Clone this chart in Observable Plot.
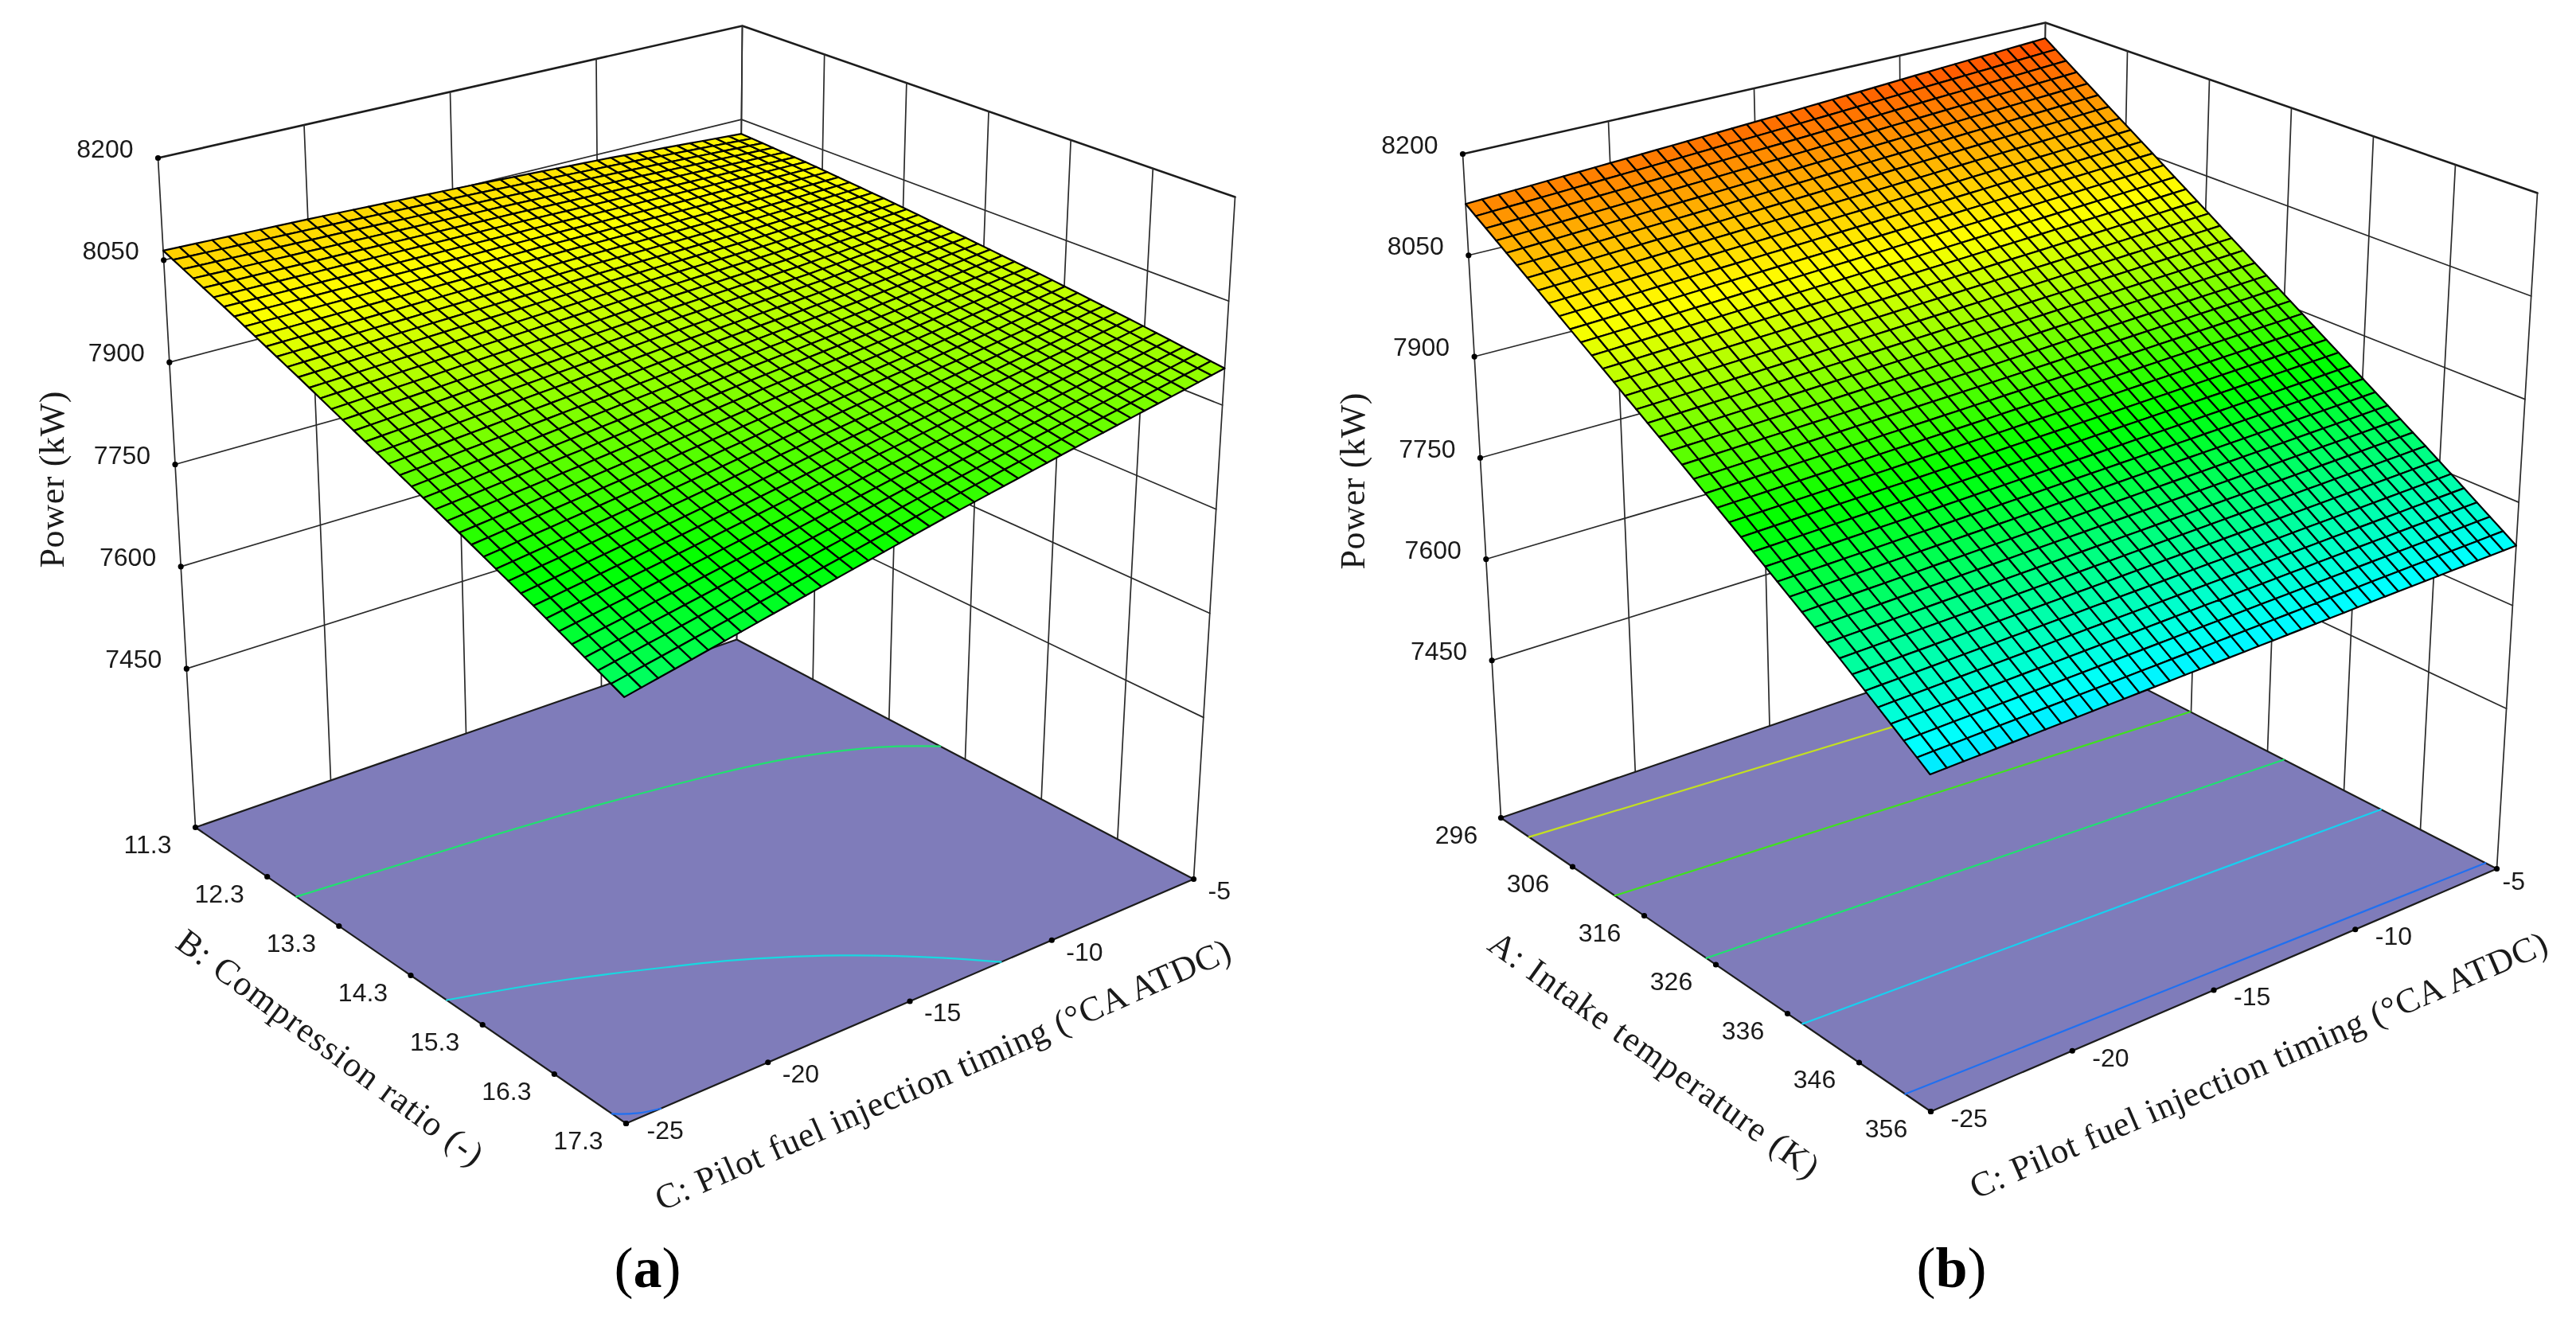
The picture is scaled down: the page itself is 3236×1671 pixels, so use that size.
<!DOCTYPE html>
<html><head><meta charset="utf-8">
<style>html,body{margin:0;padding:0;background:#fff}svg{display:block;filter:blur(0.6px)}</style>
<script src="https://cdn.jsdelivr.net/npm/d3@7"></script>
<script src="https://cdn.jsdelivr.net/npm/@observablehq/plot@0.6"></script>
</head><body><div id="chart"></div>
<script>
// ---- Axis ticks
const timingTicks = [-25, -20, -15, -10, -5];
const powerTicks = [8200, 8050, 7900, 7750, 7600, 7450];
const ratioTicks = [11.3, 12.3, 13.3, 14.3, 15.3, 16.3, 17.3];
const tempTicks = [296, 306, 316, 326, 336, 346, 356];
const floorPower = 7217;

// ---- Power (kW) read at the tick crossings; rows follow the ratio / temperature ticks,
// columns follow the timing ticks. The fine mesh drawn below is a subdivision of these read values.
const powerA = [
  [8064, 8058, 8050, 8040, 8027],
  [8023, 8023, 8023, 8021, 8020],
  [7979, 7988, 7996, 8001, 8010],
  [7933, 7950, 7966, 7980, 7998],
  [7886, 7911, 7937, 7959, 7985],
  [7837, 7871, 7906, 7938, 7970],
  [7785, 7831, 7876, 7916, 7953]
];
const powerB = [
  [8126, 8138, 8150, 8163, 8175],
  [8055, 8065, 8075, 8085, 8094],
  [7982, 7990, 7998, 8006, 8014],
  [7908, 7914, 7920, 7927, 7933],
  [7832, 7837, 7842, 7847, 7852],
  [7755, 7759, 7763, 7767, 7771],
  [7672, 7676, 7680, 7684, 7687]
];

// ---- Floor contours: timing and ratio/temperature
const contoursA = [
  {color: "#22e070", timing: [-25, -18.9, -14.9, -11.28, -8.69, -6.41, -5], m: [12.86, 13.01, 13.15, 13.33, 13.53, 13.84, 14.16]},
  {color: "#18d8e0", timing: [-25, -21.9, -19.2, -17.73, -15.43, -13.39, -12.3], m: [15.0, 15.34, 15.72, 15.95, 16.41, 16.95, 17.3]},
  {color: "#2070f0", timing: [-25, -24.5, -23.9], m: [17.13, 17.24, 17.3]}
];
const contoursB = [
  {color: "#c4e020", timing: [-25, -5], m: [300.5, 304.8]},
  {color: "#40e020", timing: [-25, -5], m: [313.7, 317.7]},
  {color: "#20e070", timing: [-25, -5], m: [326.9, 330.1]},
  {color: "#18d0f0", timing: [-25, -5], m: [339.9, 342.3]},
  {color: "#2070f0", timing: [-25, -5], m: [352.9, 354.7]}
];

// ---- Colour ramp of the surface
const rampPower = [7525, 7690, 7855, 8020, 8240];
const rampColor = ["#0000ff", "#00ffff", "#00ff00", "#ffff00", "#ff0000"];

// ---- View of each panel: where the box corners sit (left, back, right, front)
const floorViewA = [[245, 1039], [925, 803], [1499, 1104], [786, 1411]];
const topViewA = [[198, 198], [932, 32], [1551, 247], [782, 484]];
const floorViewB = [[1885, 1027], [2560, 796], [3136, 1091], [2425, 1396]];
const topViewB = [[1837, 193], [2569, 28], [3187, 242], [2423, 481]];

function perspective([L, K, R, F]) {
  const cross = (a, b) => a[0] * b[1] - a[1] * b[0];
  const d1 = [K[0] - R[0], K[1] - R[1]], d2 = [F[0] - R[0], F[1] - R[1]];
  const s = [L[0] - K[0] + R[0] - F[0], L[1] - K[1] + R[1] - F[1]];
  const g = cross(s, d2) / cross(d1, d2), h = cross(d1, s) / cross(d1, d2);
  return (u, v) => {
    const w = g * u + h * v + 1;
    return [0, 1].map(i => ((K[i] - L[i] + g * K[i]) * u + (F[i] - L[i] + h * F[i]) * v + L[i]) / w);
  };
}
const bilinear = ([L, K, R, F]) => (u, v) => [0, 1].map(i =>
  (1 - v) * ((1 - u) * L[i] + u * K[i]) + v * ((1 - u) * F[i] + u * R[i]));

function camera(floorQuad, topQuad, make) {
  const low = make(floorQuad), high = make(topQuad);
  return (u, v, z) => {
    const t = (z - floorPower) / (8200 - floorPower), a = low(u, v), b = high(u, v);
    return {x: a[0] + t * (b[0] - a[0]), y: a[1] + t * (b[1] - a[1])};
  };
}

const MESH = 40;
function panel(cfg) {
  const box = camera(cfg.floorView, cfg.topView, bilinear);     // walls and axis ticks are evenly spaced
  const cam = camera(cfg.floorView, cfg.topView, perspective);  // surface and floor contours recede in depth
  const side = cfg.sideTicks;
  const uOf = c => (c + 25) / 20, vOf = m => (m - side[0]) / (side[side.length - 1] - side[0]);
  const marks = [];
  const polyline = (pts, opts, view = box) => Plot.line(pts.map(q => view(...q)), {x: "x", y: "y", ...opts});
  const grid = {stroke: "#2a2a2a", strokeWidth: 1.7};
  const rail = {stroke: "#1c1c1c", strokeWidth: 2.6};
  // back walls
  for (const z of powerTicks) marks.push(polyline([[0, 0, z], [1, 0, z], [1, 1, z]], z === 8200 ? rail : grid));
  for (const c of timingTicks) marks.push(polyline([[uOf(c), 0, floorPower], [uOf(c), 0, 8200]], grid));
  for (const m of side) marks.push(polyline([[1, vOf(m), floorPower], [1, vOf(m), 8200]], grid));
  // floor
  marks.push(polyline([[0, 0, floorPower], [1, 0, floorPower], [1, 1, floorPower], [0, 1, floorPower]],
    {fill: "#7f7cba", stroke: "#1c1c1c", strokeWidth: 2.2, curve: "linear-closed"}));
  // floor contours
  for (const k of cfg.contours)
    marks.push(polyline(k.timing.map((c, i) => [uOf(c), vOf(k.m[i]), floorPower]), {stroke: k.color, strokeWidth: 2.2, curve: "natural"}, cam));
  // surface mesh
  const at = (u, v) => {
    const a = Math.min(u * 4, 3.9999), b = Math.min(v * 6, 5.9999), i = Math.floor(a), j = Math.floor(b), s = a - i, r = b - j, T = cfg.table;
    return (1 - r) * ((1 - s) * T[j][i] + s * T[j][i + 1]) + r * ((1 - s) * T[j + 1][i] + s * T[j + 1][i + 1]);
  };
  const cells = [];
  for (let i = 0; i < MESH; i++) for (let j = 0; j < MESH; j++) {
    const corners = [[i, j], [i + 1, j], [i + 1, j + 1], [i, j + 1]].map(([a, b]) => [a / MESH, b / MESH]);
    const level = d3.mean(corners, ([u, v]) => at(u, v));
    for (const [u, v] of corners) cells.push({...cam(u, v, at(u, v)), id: i * MESH + j, level});
  }
  marks.push(Plot.line(cells, {x: "x", y: "y", z: "id", fill: "level", stroke: "#000", strokeWidth: 2.2, curve: "linear-closed"}));
  // tick dots
  const dots = [...powerTicks.map(z => box(0, 0, z)), ...side.map(m => box(0, vOf(m), floorPower)), ...timingTicks.map(c => box(uOf(c), 1, floorPower))];
  marks.push(Plot.dot(dots, {x: "x", y: "y", r: 3.6, fill: "#000"}));
  // tick labels
  const sans = {fontFamily: "'Liberation Sans', Arial, sans-serif", fontSize: 32, fill: "#1a1a1a"};
  marks.push(Plot.text(powerTicks.map(z => ({...box(0, 0, z), s: String(z)})), {x: "x", y: "y", text: "s", textAnchor: "end", dx: -31, dy: -11, ...sans}));
  marks.push(Plot.text(side.map(m => ({...box(0, vOf(m), floorPower), s: String(m)})), {x: "x", y: "y", text: "s", dx: cfg.sideDx, dy: 22, ...sans}));
  for (const c of timingTicks) {
    const off = cfg.timingOffset(c);
    marks.push(Plot.text([{...box(uOf(c), 1, floorPower), s: String(c)}], {x: "x", y: "y", text: "s", textAnchor: "start", dx: off[0], dy: off[1], ...sans}));
  }
  // titles
  const serif = {fontFamily: "'Liberation Serif', 'Times New Roman', serif", fill: "#1a1a1a", fontSize: 44};
  for (const t of cfg.titles)
    marks.push(Plot.text([t], {x: "x", y: "y", text: "s", rotate: t.rotate, ...serif}));
  marks.push(Plot.text([cfg.tag], {x: "x", y: "y", text: "s", fontFamily: "'Liberation Serif', serif", fontSize: 72, fill: "#000"}));
  return marks;
}

const lengths = {
  "Power (kW)": 222,
  "B: Compression ratio (-)": 467,
  "A: Intake temperature (K)": 499,
  "C: Pilot fuel injection timing (°CA ATDC)": 785
};

const marks = [
  ...panel({floorView: floorViewA, topView: topViewA, sideTicks: ratioTicks, table: powerA, contours: contoursA, sideDx: -60,
    timingOffset: c => c === -25 ? [26, 9] : [18, 15],
    titles: [
      {s: "Power (kW)", x: 65, y: 602, rotate: -90},
      {s: "B: Compression ratio (-)", x: 414, y: 1316, rotate: 36.5},
      {s: "C: Pilot fuel injection timing (°CA ATDC)", x: 1184, y: 1350, rotate: -23.8}
    ],
    tag: {s: "(a)", x: 813, y: 1593}}),
  ...panel({floorView: floorViewB, topView: topViewB, sideTicks: tempTicks, table: powerB, contours: contoursB, sideDx: -56,
    timingOffset: c => c === -5 ? [7, 16] : [25, 9],
    titles: [
      {s: "Power (kW)", x: 1699, y: 604, rotate: -90},
      {s: "A: Intake temperature (K)", x: 2077, y: 1325, rotate: 35.6},
      {s: "C: Pilot fuel injection timing (°CA ATDC)", x: 2837, y: 1338, rotate: -23.3}
    ],
    tag: {s: "(b)", x: 2451, y: 1593}})
];

const chart = Plot.plot({
  width: 3236, height: 1671, margin: 0,
  x: {domain: [0, 3236], range: [0, 3236], axis: null},
  y: {domain: [0, 1671], range: [0, 1671], axis: null},
  color: {type: "linear", domain: rampPower, range: rampColor, interpolate: "rgb", clamp: true},
  marks
});
d3.select(chart).selectAll("text").each(function () {
  const s = this.textContent;
  if (lengths[s]) { this.setAttribute("textLength", lengths[s]); this.setAttribute("lengthAdjust", "spacing"); }
  if (s === "(a)" || s === "(b)") {
    const sel = d3.select(this).text("");
    sel.append("tspan").text("(");
    sel.append("tspan").attr("font-weight", "bold").text(s[1]);
    sel.append("tspan").text(")");
  }
});
document.getElementById("chart").appendChild(chart);
</script></body></html>
